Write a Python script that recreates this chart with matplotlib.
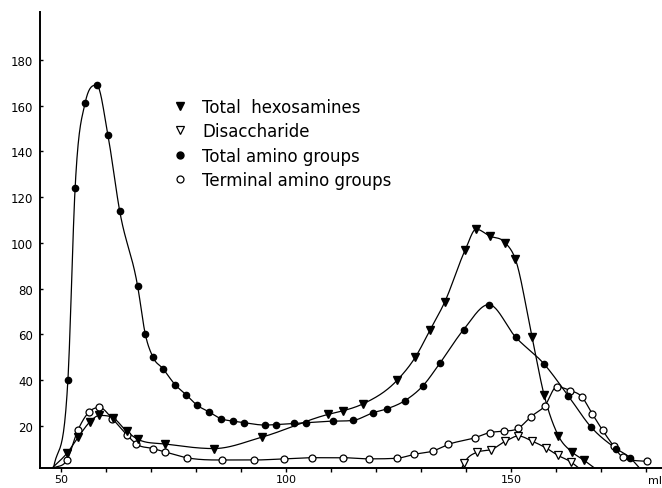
import numpy as np
import matplotlib
matplotlib.use("Agg")
import matplotlib.pyplot as plt
from matplotlib.lines import Line2D

# elution volume (ml) and amounts
hex_ml = [51.3, 53.8, 56.3, 58.5, 61.5, 64.6, 67.1, 73.1, 83.9, 94.6, 109.4, 112.6,
          117.0, 124.7, 128.7, 132.0, 135.2, 139.8, 142.2, 145.2, 148.7, 150.9,
          154.6, 157.3, 160.5, 163.5, 166.1]
hex_val = [8, 15, 21.5, 24.5, 23.5, 17.5, 14, 12, 10, 15, 25, 26.5,
           29.5, 40, 50, 62, 74, 97, 106, 103, 100, 93,
           59, 33.5, 15.5, 8.5, 5]

dis_ml = [139.5, 142.4, 145.5, 148.6, 151.6, 154.7, 157.8, 160.4, 163.3]
dis_val = [3.5, 8.4, 9.5, 13.1, 15.5, 13.2, 10.2, 7, 4.1]

tam_ml = [51.5, 53.1, 55.3, 57.9, 60.4, 63.0, 67.0, 68.7, 70.4, 72.6, 75.3, 77.8,
          80.2, 82.9, 85.6, 88.2, 90.6, 95.3, 97.8, 101.8, 104.4, 110.3, 114.8,
          119.3, 122.4, 126.4, 130.4, 134.2, 139.4, 145.0, 151.0, 157.3, 162.7,
          167.7, 173.3, 176.4]
tam_val = [40, 124, 161, 169, 147, 114, 81, 60, 50, 45, 38, 33.5,
           29, 26, 23, 22, 21.3, 20.3, 20.5, 21, 21.3, 22, 22.3,
           25.7, 27.4, 31, 37.5, 47.5, 62, 73, 58.7, 47, 33,
           19.5, 10, 6]

term_ml = [51.3, 53.7, 56.2, 58.5, 61.4, 64.6, 66.7, 70.4, 73.1, 77.9, 85.7, 92.8,
           99.6, 105.8, 112.6, 118.4, 124.7, 128.5, 132.7, 136.0, 142.0, 145.2,
           148.3, 151.5, 154.4, 157.5, 160.1, 163.1, 165.7, 168.0, 170.3, 172.8,
           174.8, 180.2]
term_val = [5, 18, 26, 28, 23, 16, 12, 10, 8.5, 6, 5, 5,
            5.5, 6, 6, 5.5, 5.8, 7.5, 9, 11.8, 14.8, 17,
            17.6, 18.8, 24, 28.8, 37, 35.4, 32.6, 25.2, 18, 11,
            6.2, 4.4]

# where each hand-drawn curve leaves / meets the baseline (ml)
hex_ends = (48.0, 168.5)
dis_ends = (139.0, 165.0)
tam_ends = (48.3, 178.5)
term_ends = (48.3, None)

labels = ["Total  hexosamines", "Disaccharide", "Total amino groups", "Terminal amino groups"]
base = 1.5


def smooth_curve(x, y, xs):
    # cubic Hermite, centred slopes, Fritsch-Carlson limiter (no overshoot)
    x = np.asarray(x, float)
    y = np.asarray(y, float)
    h = np.diff(x)
    delta = np.diff(y) / h
    n = len(x)
    d = np.zeros(n)
    for k in range(1, n - 1):
        if delta[k - 1] * delta[k] > 0:
            d[k] = (h[k] * delta[k - 1] + h[k - 1] * delta[k]) / (h[k - 1] + h[k])
    d[0] = delta[0]
    d[-1] = delta[-1]
    for k in range(n - 1):
        if delta[k] == 0:
            d[k] = d[k + 1] = 0
            continue
        a = d[k] / delta[k]
        b = d[k + 1] / delta[k]
        s = a * a + b * b
        if s > 9:
            t = 3 / np.sqrt(s)
            d[k] = t * a * delta[k]
            d[k + 1] = t * b * delta[k]
    idx = np.clip(np.searchsorted(x, xs) - 1, 0, n - 2)
    t = (xs - x[idx]) / h[idx]
    h00 = 2 * t**3 - 3 * t**2 + 1
    h10 = t**3 - 2 * t**2 + t
    h01 = -2 * t**3 + 3 * t**2
    h11 = t**3 - t**2
    return h00 * y[idx] + h10 * h[idx] * d[idx] + h01 * y[idx + 1] + h11 * h[idx] * d[idx + 1]


def curve(ml, val, ends):
    xs = list(ml)
    ys = list(val)
    if ends[0] is not None:
        xs = [ends[0]] + xs
        ys = [base] + ys
    if ends[1] is not None:
        xs = xs + [ends[1]]
        ys = ys + [base]
    xx = np.linspace(xs[0], xs[-1], 1000)
    return xx, smooth_curve(xs, ys, xx)


fig = plt.figure(figsize=(6.62, 4.89), dpi=100)
ax = fig.add_axes([40 / 662, 20 / 489, 622 / 662, 456 / 489])

for ml, val, ends in [(hex_ml, hex_val, hex_ends), (dis_ml, dis_val, dis_ends),
                      (tam_ml, tam_val, tam_ends), (term_ml, term_val, term_ends)]:
    xx, yy = curve(ml, val, ends)
    ax.plot(xx, yy, color="black", lw=0.9, zorder=2)

ax.plot(hex_ml, hex_val, ls="none", marker="v", ms=5.5, color="black", zorder=4)
ax.plot(dis_ml, dis_val, ls="none", marker="v", ms=5.5, mfc="white", mec="black", mew=0.9, zorder=4)
ax.plot(tam_ml, tam_val, ls="none", marker="o", ms=4.5, color="black", zorder=4)
ax.plot(term_ml, term_val, ls="none", marker="o", ms=5, mfc="white", mec="black", mew=0.9, zorder=3)

ax.set_xlim(45.3, 183.5)
ax.set_ylim(base, 201)
ax.spines["top"].set_visible(False)
ax.spines["right"].set_visible(False)
ax.spines["left"].set_linewidth(1.4)
ax.spines["bottom"].set_linewidth(1.4)

ax.set_xticks(np.arange(50, 181, 10))
ax.set_xticklabels(["50", "", "", "", "", "100", "", "", "", "", "150", "", "", ""])
ax.set_yticks(np.arange(20, 181, 20))
ax.tick_params(axis="x", direction="out", length=3, width=1, pad=1.5, labelsize=8)
ax.tick_params(axis="y", direction="in", length=2, width=1, pad=5, labelsize=8.5)
ax.text(182, -3.6, "ml", fontsize=8, ha="center", va="center")

handles = [
    Line2D([], [], ls="none", marker="v", ms=6, color="black"),
    Line2D([], [], ls="none", marker="v", ms=6, mfc="white", mec="black", mew=0.9),
    Line2D([], [], ls="none", marker="o", ms=5, color="black"),
    Line2D([], [], ls="none", marker="o", ms=5, mfc="white", mec="black", mew=0.9),
]
ax.legend(handles, labels, loc="upper left", bbox_to_anchor=(174 / 662, 1 - 99 / 489),
          bbox_transform=fig.transFigure, frameon=False, fontsize=12,
          handlelength=0.75, handletextpad=0.95, labelspacing=0.38, borderpad=0,
          borderaxespad=0)

fig.savefig("out.png", dpi=100)
